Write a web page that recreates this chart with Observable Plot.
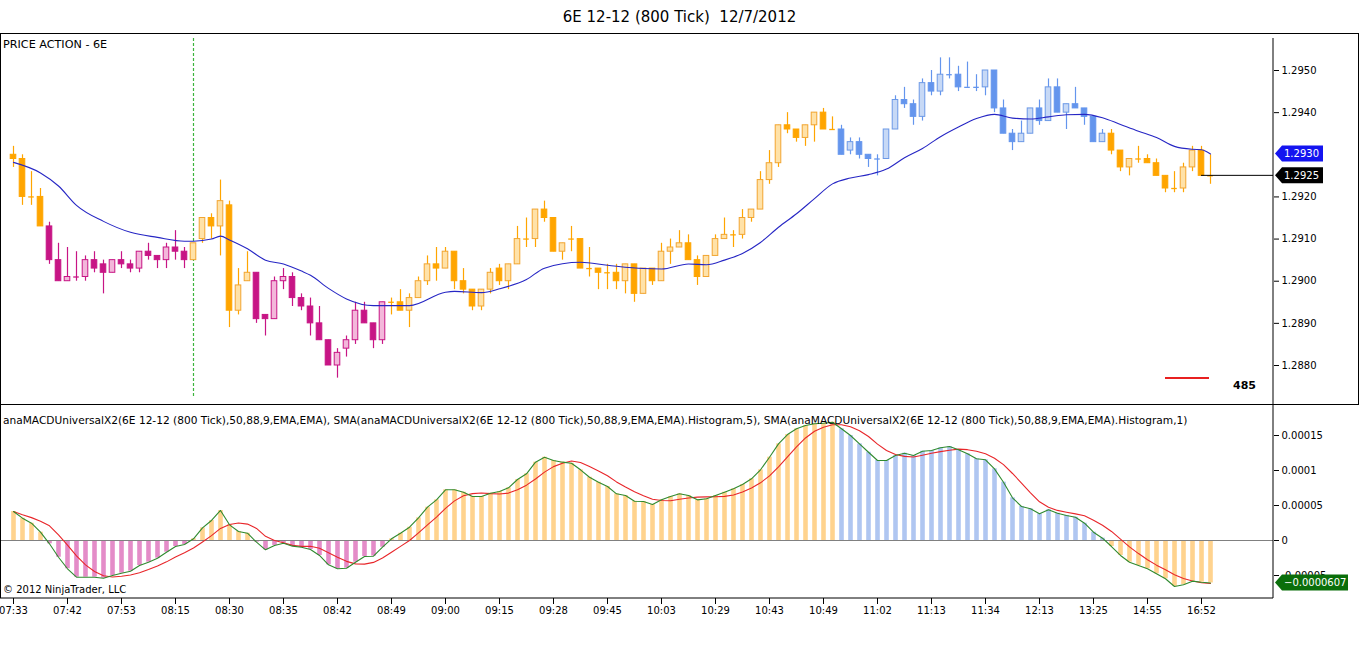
<!DOCTYPE html>
<html>
<head>
<meta charset="utf-8">
<script src="https://cdn.jsdelivr.net/npm/d3@7"></script>
<script src="https://cdn.jsdelivr.net/npm/@observablehq/plot@0.6"></script>
<style>
  html, body { margin: 0; padding: 0; background: #fff; }
  body { width: 1359px; height: 654px; overflow: hidden; position: relative; font-family: "DejaVu Sans", sans-serif; }
  .abs { position: absolute; }
  #title { top: 8px; left: 0; width: 1359px; text-align: center; font-size: 15px; line-height: 18px; white-space: pre; color: #000; }
  #topPanel { left: 0; top: 33px; }
  #botPanel { left: 0; top: 404px; }
  #topBox { left: 0; top: 33px; width: 1357px; height: 370px; border: 1px solid #000; z-index: 5; pointer-events: none; }
  #botLeft { left: 0; top: 404px; width: 0; height: 194px; border-left: 1px solid #000; z-index: 5; }
  .lbl { z-index: 6; white-space: pre; color: #000; }
</style>
</head>
<body>
<div id="title" class="abs">6E 12-12 (800 Tick)  12/7/2012</div>
<div id="topPanel" class="abs"></div>
<div id="botPanel" class="abs"></div>
<div id="topBox" class="abs"></div>
<div id="botLeft" class="abs"></div>
<div class="abs lbl" style="left:3px;top:38px;font-size:11.2px;">PRICE ACTION - 6E</div>
<div class="abs lbl" style="left:3px;top:414px;font-size:10.6px;">anaMACDUniversalX2(6E 12-12 (800 Tick),50,88,9,EMA,EMA), SMA(anaMACDUniversalX2(6E 12-12 (800 Tick),50,88,9,EMA,EMA).Histogram,5), SMA(anaMACDUniversalX2(6E 12-12 (800 Tick),50,88,9,EMA,EMA).Histogram,1)</div>
<div class="abs lbl" style="left:3px;top:584px;font-size:10px;">© 2012 NinjaTrader, LLC</div>
<div class="abs" style="left:1165px;top:377px;width:44px;height:2px;background:#E82020;z-index:6;"></div>
<div class="abs lbl" style="left:1233px;top:379px;font-size:11px;font-weight:bold;">485</div>
<script>
// ---------- DATA ----------
const open = [1.2930,1.2929,1.2920,1.2920,1.2913,1.2905,1.2900,1.2901,1.2901,1.2905,
  1.2904,1.2902,1.2905,1.2904,1.2903,1.2907,1.2906,1.2905,1.2908,1.2907,
  1.2905,1.2910,1.2915,1.2913,1.2918,1.2893,1.2900,1.2902,1.2892,1.2891,
  1.2900,1.2901,1.2896,1.2894,1.2890,1.2886,1.2880,1.2884,1.2886,1.2893,
  1.2890,1.2886,1.2895,1.2895,1.2893,1.2896,1.2900,1.2904,1.2903,1.2907,
  1.2900,1.2898,1.2894,1.2898,1.2903,1.2900,1.2904,1.2910,1.2910,1.2917,
  1.2915,1.2907,1.2910,1.2910,1.2903,1.2903,1.2902,1.2902,1.2900,1.2904,
  1.2897,1.2903,1.2900,1.2907,1.2908,1.2909,1.2905,1.2901,1.2906,1.2910,
  1.2911,1.2911,1.2915,1.2917,1.2924,1.2928,1.2937,1.2936,1.2934,1.2937,
  1.2940,1.2936,1.2936,1.2931,1.2933,1.2930,1.2929,1.2929,1.2936,1.2943,
  1.2942,1.2939,1.2947,1.2945,1.2949,1.2949,1.2946,1.2946,1.2946,1.2950,
  1.2941,1.2935,1.2933,1.2935,1.2941,1.2938,1.2946,1.2940,1.2942,1.2941,
  1.2939,1.2933,1.2935,1.2931,1.2927,1.2929,1.2929,1.2928,1.2925,1.2922,
  1.2922,1.2927,1.2931,1.2925];
const high = [1.2932,1.2930,1.2926,1.2922,1.2914,1.2909,1.2908,1.2907,1.2906,1.2907,
  1.2905,1.2905,1.2907,1.2905,1.2907,1.2909,1.2906,1.2909,1.2912,1.2908,
  1.2909,1.2915,1.2916,1.2924,1.2919,1.2903,1.2907,1.2902,1.2892,1.2901,
  1.2903,1.2902,1.2897,1.2896,1.2894,1.2886,1.2884,1.2887,1.2895,1.2895,
  1.2890,1.2895,1.2896,1.2898,1.2897,1.2901,1.2906,1.2908,1.2908,1.2907,
  1.2903,1.2898,1.2898,1.2903,1.2904,1.2904,1.2913,1.2915,1.2917,1.2919,
  1.2915,1.2909,1.2913,1.2910,1.2908,1.2903,1.2904,1.2904,1.2904,1.2904,
  1.2903,1.2903,1.2909,1.2910,1.2912,1.2911,1.2906,1.2906,1.2911,1.2915,
  1.2912,1.2917,1.2917,1.2926,1.2931,1.2937,1.2940,1.2936,1.2937,1.2940,
  1.2941,1.2939,1.2937,1.2934,1.2934,1.2930,1.2930,1.2936,1.2944,1.2946,
  1.2943,1.2948,1.2950,1.2953,1.2953,1.2951,1.2952,1.2949,1.2950,1.2950,
  1.2943,1.2936,1.2938,1.2941,1.2943,1.2948,1.2948,1.2942,1.2946,1.2941,
  1.2939,1.2936,1.2936,1.2931,1.2929,1.2932,1.2930,1.2929,1.2925,1.2926,
  1.2928,1.2932,1.2932,1.2930];
const low = [1.2927,1.2918,1.2918,1.2913,1.2904,1.2900,1.2900,1.2900,1.2900,1.2902,
  1.2897,1.2902,1.2903,1.2902,1.2902,1.2905,1.2903,1.2903,1.2905,1.2903,
  1.2905,1.2909,1.2910,1.2906,1.2889,1.2892,1.2900,1.2890,1.2887,1.2891,
  1.2898,1.2894,1.2893,1.2887,1.2886,1.2880,1.2877,1.2882,1.2885,1.2890,
  1.2884,1.2885,1.2892,1.2893,1.2889,1.2896,1.2899,1.2900,1.2903,1.2898,
  1.2897,1.2893,1.2893,1.2897,1.2899,1.2898,1.2904,1.2908,1.2908,1.2914,
  1.2907,1.2905,1.2907,1.2903,1.2901,1.2898,1.2898,1.2898,1.2897,1.2895,
  1.2897,1.2899,1.2900,1.2904,1.2908,1.2905,1.2899,1.2901,1.2906,1.2910,
  1.2908,1.2910,1.2914,1.2917,1.2923,1.2927,1.2935,1.2933,1.2932,1.2933,
  1.2936,1.2936,1.2930,1.2930,1.2929,1.2927,1.2925,1.2929,1.2936,1.2941,
  1.2937,1.2938,1.2944,1.2944,1.2948,1.2945,1.2946,1.2945,1.2944,1.2940,
  1.2935,1.2931,1.2933,1.2935,1.2937,1.2938,1.2940,1.2936,1.2941,1.2937,
  1.2933,1.2933,1.2930,1.2926,1.2925,1.2928,1.2928,1.2925,1.2921,1.2921,
  1.2921,1.2926,1.2925,1.2923];
const close = [1.2929,1.2920,1.2920,1.2913,1.2905,1.2900,1.2901,1.2901,1.2905,1.2903,
  1.2902,1.2905,1.2904,1.2903,1.2907,1.2906,1.2905,1.2908,1.2907,1.2905,
  1.2909,1.2915,1.2913,1.2919,1.2893,1.2899,1.2902,1.2891,1.2891,1.2900,
  1.2901,1.2896,1.2894,1.2890,1.2886,1.2880,1.2883,1.2886,1.2893,1.2890,
  1.2886,1.2895,1.2895,1.2893,1.2896,1.2900,1.2904,1.2903,1.2907,1.2900,
  1.2898,1.2894,1.2898,1.2902,1.2900,1.2904,1.2910,1.2910,1.2917,1.2915,
  1.2907,1.2909,1.2910,1.2903,1.2903,1.2902,1.2902,1.2900,1.2904,1.2897,
  1.2903,1.2900,1.2907,1.2908,1.2909,1.2905,1.2901,1.2906,1.2910,1.2911,
  1.2911,1.2915,1.2917,1.2924,1.2928,1.2937,1.2936,1.2934,1.2937,1.2940,
  1.2936,1.2936,1.2930,1.2933,1.2930,1.2929,1.2929,1.2936,1.2943,1.2942,
  1.2939,1.2947,1.2945,1.2949,1.2949,1.2946,1.2946,1.2946,1.2950,1.2941,
  1.2935,1.2933,1.2935,1.2941,1.2938,1.2946,1.2940,1.2942,1.2941,1.2939,
  1.2933,1.2935,1.2931,1.2927,1.2929,1.2929,1.2928,1.2925,1.2922,1.2922,
  1.2927,1.2931,1.2925,1.2925];

// EMA line, read at these bar numbers
const emaIdx = [1,4,6,8,11,14,17,20,21,23,24,25,27,29,31,33,34,36,38,41,
  45,49,50,53,55,58,60,64,67,71,73,76,78,80,82,84,86,88,90,92,
  94,96,98,100,102,104,106,108,110,112,114,116,118,120,122,124,126,128,130,132,133,134];
const emaVal = [1.29282,1.29257,1.29226,1.29180,1.29142,1.29116,1.29104,1.29095,1.29095,1.29100,
  1.29107,1.29098,1.29077,1.29050,1.29041,1.29024,1.29014,1.28983,1.28958,1.28942,
  1.28942,1.28974,1.28976,1.28973,1.28982,1.29004,1.29031,1.29045,1.29038,1.29030,
  1.29029,1.29041,1.29039,1.29050,1.29066,1.29092,1.29128,1.29160,1.29196,1.29231,
  1.29245,1.29253,1.29266,1.29293,1.29315,1.29343,1.29366,1.29386,1.29396,1.29387,
  1.29385,1.29390,1.29395,1.29396,1.29388,1.29372,1.29356,1.29341,1.29320,1.29313,
  1.29312,1.29302];

// MACD histogram, one value per bar
const hist = [4.14e-5,3.19e-5,2.47e-5,1.19e-5,-0.47e-5,-2.39e-5,-4.04e-5,-5.24e-5,-5.24e-5,-5.24e-5,
  -5.39e-5,-5.0e-5,-4.67e-5,-4.39e-5,-3.57e-5,-3.1e-5,-2.53e-5,-1.67e-5,-0.86e-5,-0.57e-5,
  0.24e-5,1.81e-5,2.86e-5,4.29e-5,2.24e-5,1.29e-5,1.04e-5,-0.24e-5,-1.33e-5,-0.71e-5,
  -0.39e-5,-0.81e-5,-0.96e-5,-1.29e-5,-2.14e-5,-3.47e-5,-4.04e-5,-3.96e-5,-3.1e-5,-2.29e-5,
  -2.24e-5,-0.96e-5,0.24e-5,1.04e-5,1.9e-5,3.24e-5,4.76e-5,5.81e-5,7.24e-5,7.24e-5,
  6.9e-5,6.29e-5,6.29e-5,6.76e-5,7.0e-5,7.53e-5,8.71e-5,9.53e-5,11.19e-5,11.9e-5,
  11.43e-5,11.19e-5,11.04e-5,10.1e-5,9.04e-5,8.33e-5,7.71e-5,6.67e-5,6.43e-5,5.61e-5,
  5.57e-5,5.14e-5,5.81e-5,6.29e-5,6.67e-5,6.43e-5,5.81e-5,5.96e-5,6.43e-5,6.9e-5,
  7.39e-5,8.0e-5,8.81e-5,10.1e-5,11.9e-5,13.81e-5,15.14e-5,15.96e-5,16.43e-5,16.67e-5,
  16.76e-5,16.9e-5,15.96e-5,15.0e-5,13.81e-5,12.61e-5,11.43e-5,11.43e-5,12.14e-5,12.47e-5,
  12.14e-5,12.76e-5,12.86e-5,13.24e-5,13.43e-5,12.96e-5,12.39e-5,11.67e-5,11.53e-5,10.24e-5,
  8.33e-5,6.1e-5,4.86e-5,4.53e-5,3.81e-5,4.39e-5,3.9e-5,3.57e-5,3.33e-5,2.47e-5,
  1.19e-5,0.33e-5,-0.86e-5,-2.14e-5,-3.1e-5,-3.57e-5,-4.04e-5,-4.76e-5,-5.47e-5,-6.57e-5,
  -6.33e-5,-5.81e-5,-5.96e-5,-6.07e-5];

// colour regime of bars/candles: first bar number of each run
const regimeStart = [1, 5, 21, 28, 43, 93, 123];
const regimeName  = ["orange", "magenta", "orange", "magenta", "orange", "blue", "orange"];

// session break (bar number)
const sessionBreaks = [21];

// axis ticks
const priceTicks = [1.2880, 1.2890, 1.2900, 1.2910, 1.2920, 1.2940, 1.2950];
const macdTicks = [-0.00005, 0, 0.00005, 0.0001, 0.00015];
const macdTickLabels = ["-0.00005", "0", "0.00005", "0.0001", "0.00015"];
const xTickIdx = [1,7,13,19,25,31,37,43,49,55,61,67,73,79,85,91,97,103,109,115,121,127,133];
const xTickLabels = ["07:33","07:42","07:53","08:15","08:30","08:35","08:42","08:49","09:00","09:15","09:28","09:45",
  "10:03","10:29","10:43","10:49","11:02","11:13","11:34","12:13","13:25","14:55","16:52"];

// ---------- STYLE ----------
const palette = {
  orange:  {dark: "#FFA500", light: "#FFE2A8", edge: "#F2A531", hist: "#FFD38E"},
  magenta: {dark: "#C71585", light: "#F3B7DA", edge: "#C71585", hist: "#E48CC8"},
  blue:    {dark: "#6495ED", light: "#C7D9F6", edge: "#6C99E6", hist: "#AFC6F1"}
};
const FONT = "DejaVu Sans, sans-serif";

function regimeOf(i) {
  let r = regimeName[0];
  regimeStart.forEach((s, j) => { if (i >= s) r = regimeName[j]; });
  return r;
}
const candles = open.map((o, k) => ({
  i: k + 1, open: o, high: high[k], low: low[k], close: close[k], regime: regimeOf(k + 1)
}));
const bodies = candles.filter(d => d.open !== d.close);
const dojis = candles.filter(d => d.open === d.close);
const ema = emaIdx.map((i, k) => ({i, v: emaVal[k]}));
const histData = hist.map((v, k) => ({i: k + 1, v, regime: regimeOf(k + 1)}));
const HALF = 0.31;

function tag(g, x0, y, text, fill, w) {
  g.append("path")
    .attr("d", `M${x0},${y}L${x0 + 7},${y - 8}H${x0 + w}V${y + 8}H${x0 + 7}Z`)
    .attr("fill", fill);
  g.append("text")
    .attr("x", x0 + 9).attr("y", y).attr("dy", "0.36em")
    .attr("text-anchor", "start")
    .attr("fill", "#fff").attr("font-size", 10).attr("font-family", FONT)
    .text(text);
}

function topOverlay(index, scales, values, dim) {
  const g = d3.create("svg:g");
  const ax = dim.width - dim.marginRight;
  g.append("line").attr("x1", ax).attr("x2", ax).attr("y1", dim.marginTop).attr("y2", dim.height).attr("stroke", "#000");
  const n = close.length;
  const yc = scales.y(close[n - 1]);
  g.append("line").attr("x1", scales.x(n - 1)).attr("x2", ax).attr("y1", yc).attr("y2", yc).attr("stroke", "#000");
  const fmt = d3.format(".4f");
  const lastEma = emaVal[emaVal.length - 1];
  tag(g, ax + 2, scales.y(lastEma), fmt(lastEma), "#1414F0", 48);
  tag(g, ax + 2, yc, fmt(close[n - 1]), "#000", 48);
  return g.node();
}

function botOverlay(index, scales, values, dim) {
  const g = d3.create("svg:g");
  const ax = dim.width - dim.marginRight;
  const ay = dim.height - dim.marginBottom;
  g.append("line").attr("x1", ax).attr("x2", ax).attr("y1", 0).attr("y2", ay).attr("stroke", "#000");
  g.append("line").attr("x1", 0).attr("x2", ax).attr("y1", ay).attr("y2", ay).attr("stroke", "#000");
  const last = hist[hist.length - 1];
  tag(g, ax + 2, scales.y(last), d3.format(".7f")(last), "#0A6E0A", 73);
  return g.node();
}

const topChart = Plot.plot({
  width: 1359, height: 371,
  marginTop: 5, marginBottom: 6, marginLeft: 0, marginRight: 86,
  style: {fontFamily: FONT, fontSize: "10px", background: "white", color: "#000"},
  x: {domain: [1, 134], range: [13, 1210], axis: null},
  y: {domain: [1.2880, 1.2950], range: [332, 37], axis: "right", ticks: priceTicks,
      tickFormat: d3.format(".4f"), tickSize: 5, tickPadding: 3, label: null},
  color: {type: "identity"},
  marks: [
    Plot.ruleX(sessionBreaks, {stroke: "#3CB43C", strokeDasharray: "3,2", strokeWidth: 1.2}),
    Plot.ruleX(candles, {x: "i", y1: "low", y2: "high", stroke: d => palette[d.regime].dark, strokeWidth: 1.2}),
    Plot.rect(bodies, {
      x1: d => d.i - HALF, x2: d => d.i + HALF, y1: "open", y2: "close",
      fill: d => d.close > d.open ? palette[d.regime].light : palette[d.regime].dark,
      stroke: d => d.close > d.open ? palette[d.regime].edge : palette[d.regime].dark,
      strokeWidth: 1
    }),
    Plot.ruleY(dojis, {y: "close", x1: d => d.i - HALF, x2: d => d.i + HALF, stroke: d => palette[d.regime].dark, strokeWidth: 1.3}),
    Plot.line(ema, {x: "i", y: "v", stroke: "#2626C4", strokeWidth: 1.1, curve: "monotone-x"}),
    topOverlay
  ]
});
document.getElementById("topPanel").appendChild(topChart);

const botChart = Plot.plot({
  width: 1359, height: 226,
  marginTop: 0, marginBottom: 32, marginLeft: 0, marginRight: 86,
  style: {fontFamily: FONT, fontSize: "10px", background: "white", color: "#000"},
  x: {domain: [1, 134], range: [13, 1210], ticks: xTickIdx,
      tickFormat: i => xTickLabels[xTickIdx.indexOf(i)], tickSize: 6, tickPadding: 2, label: null},
  y: {domain: [-0.00005, 0.00015], range: [171, 31], axis: "right", ticks: macdTicks,
      tickFormat: v => macdTickLabels[macdTicks.indexOf(v)], tickSize: 5, tickPadding: 3, label: null},
  color: {type: "identity"},
  marks: [
    Plot.ruleX(histData, {x: "i", y1: 0, y2: "v", stroke: d => palette[d.regime].hist, strokeWidth: 4.6}),
    Plot.ruleY([0], {stroke: "#808080"}),
    Plot.line(histData, Plot.windowY({k: 5, anchor: "end"}, {x: "i", y: "v", stroke: "#E8262A", strokeWidth: 1.1})),
    Plot.line(histData, {x: "i", y: "v", stroke: "#2F8A2F", strokeWidth: 1.1}),
    botOverlay
  ]
});
document.getElementById("botPanel").appendChild(botChart);
</script>
</body>
</html>
